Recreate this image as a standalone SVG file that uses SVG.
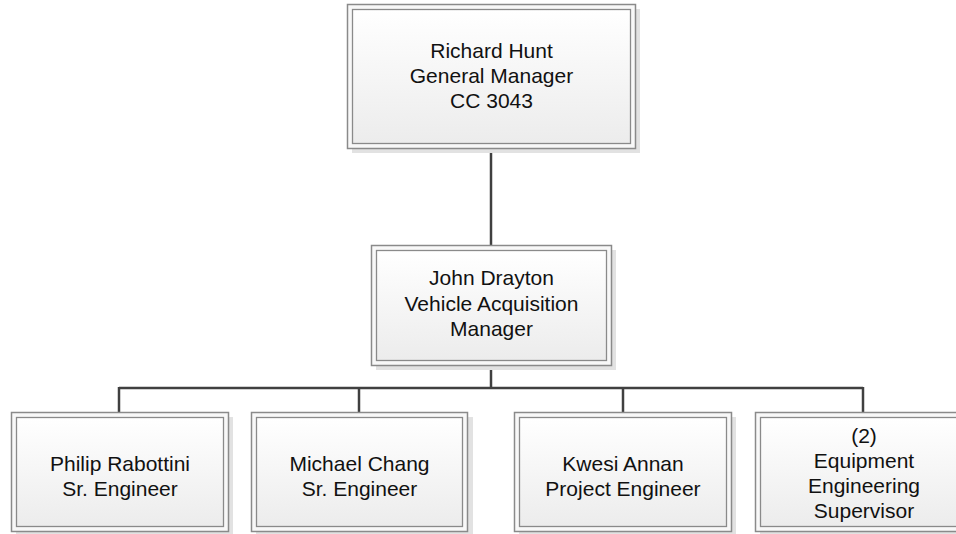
<svg xmlns="http://www.w3.org/2000/svg" width="956" height="534" viewBox="0 0 956 534">
<defs>
<linearGradient id="g" x1="0" y1="0" x2="0" y2="1">
<stop offset="0" stop-color="#ffffff"/>
<stop offset="1" stop-color="#ececec"/>
</linearGradient>
</defs>
<style>
.sh{fill:#e2e2e2;}
.out{fill:#f8f8f8;stroke:#8a8a8a;stroke-width:1.5;}
.in{fill:url(#g);stroke:#8a8a8a;stroke-width:1.3;}
.t{font-family:"Liberation Sans",Arial,sans-serif;font-size:21px;fill:#111;text-anchor:middle;}
.c{stroke:#404040;stroke-width:2.5;fill:none;}
</style>
<rect width="956" height="534" fill="#ffffff"/>
<g id="connectors">
<line class="c" x1="491" y1="148" x2="491" y2="245"/>
<line class="c" x1="491" y1="365" x2="491" y2="388"/>
<line class="c" x1="119" y1="388" x2="863" y2="388"/>
<line class="c" x1="119" y1="387" x2="119" y2="412"/>
<line class="c" x1="359" y1="387" x2="359" y2="412"/>
<line class="c" x1="623" y1="387" x2="623" y2="412"/>
<line class="c" x1="863" y1="387" x2="863" y2="412"/>
</g>
<g id="richard">
<rect class="sh" x="352" y="9" width="288" height="144"/>
<rect class="out" x="347.5" y="4.5" width="288" height="144"/>
<rect class="in" x="352.5" y="9.5" width="278" height="134"/>
<text class="t" x="491.5" y="58">Richard Hunt</text>
<text class="t" x="491.5" y="83">General Manager</text>
<text class="t" x="491.5" y="108">CC 3043</text>
</g>
<g id="john">
<rect class="sh" x="376" y="250" width="240" height="120"/>
<rect class="out" x="371.5" y="245.5" width="240" height="120"/>
<rect class="in" x="376.5" y="250.5" width="230" height="110"/>
<text class="t" x="491.5" y="285">John Drayton</text>
<text class="t" x="491.5" y="311">Vehicle Acquisition</text>
<text class="t" x="491.5" y="336">Manager</text>
</g>
<g id="philip">
<rect class="sh" x="16" y="417" width="217" height="120"/>
<rect class="out" x="11.5" y="412.5" width="217" height="119"/>
<rect class="in" x="16.5" y="417.5" width="207" height="109"/>
<text class="t" x="120" y="471">Philip Rabottini</text>
<text class="t" x="120" y="496">Sr. Engineer</text>
</g>
<g id="michael">
<rect class="sh" x="256" y="417" width="217" height="120"/>
<rect class="out" x="251.5" y="412.5" width="216" height="119"/>
<rect class="in" x="256.5" y="417.5" width="206" height="109"/>
<text class="t" x="359.5" y="471">Michael Chang</text>
<text class="t" x="359.5" y="496">Sr. Engineer</text>
</g>
<g id="kwesi">
<rect class="sh" x="519" y="417" width="217" height="120"/>
<rect class="out" x="514.5" y="412.5" width="217" height="119"/>
<rect class="in" x="519.5" y="417.5" width="207" height="109"/>
<text class="t" x="623" y="471">Kwesi Annan</text>
<text class="t" x="623" y="496">Project Engineer</text>
</g>
<g id="equipment">
<rect class="sh" x="760" y="417" width="217" height="120"/>
<rect class="out" x="755.5" y="412.5" width="217" height="119"/>
<rect class="in" x="760.5" y="417.5" width="207" height="109"/>
<text class="t" x="864" y="443">(2)</text>
<text class="t" x="864" y="468">Equipment</text>
<text class="t" x="864" y="493">Engineering</text>
<text class="t" x="864" y="518">Supervisor</text>
</g>
</svg>
